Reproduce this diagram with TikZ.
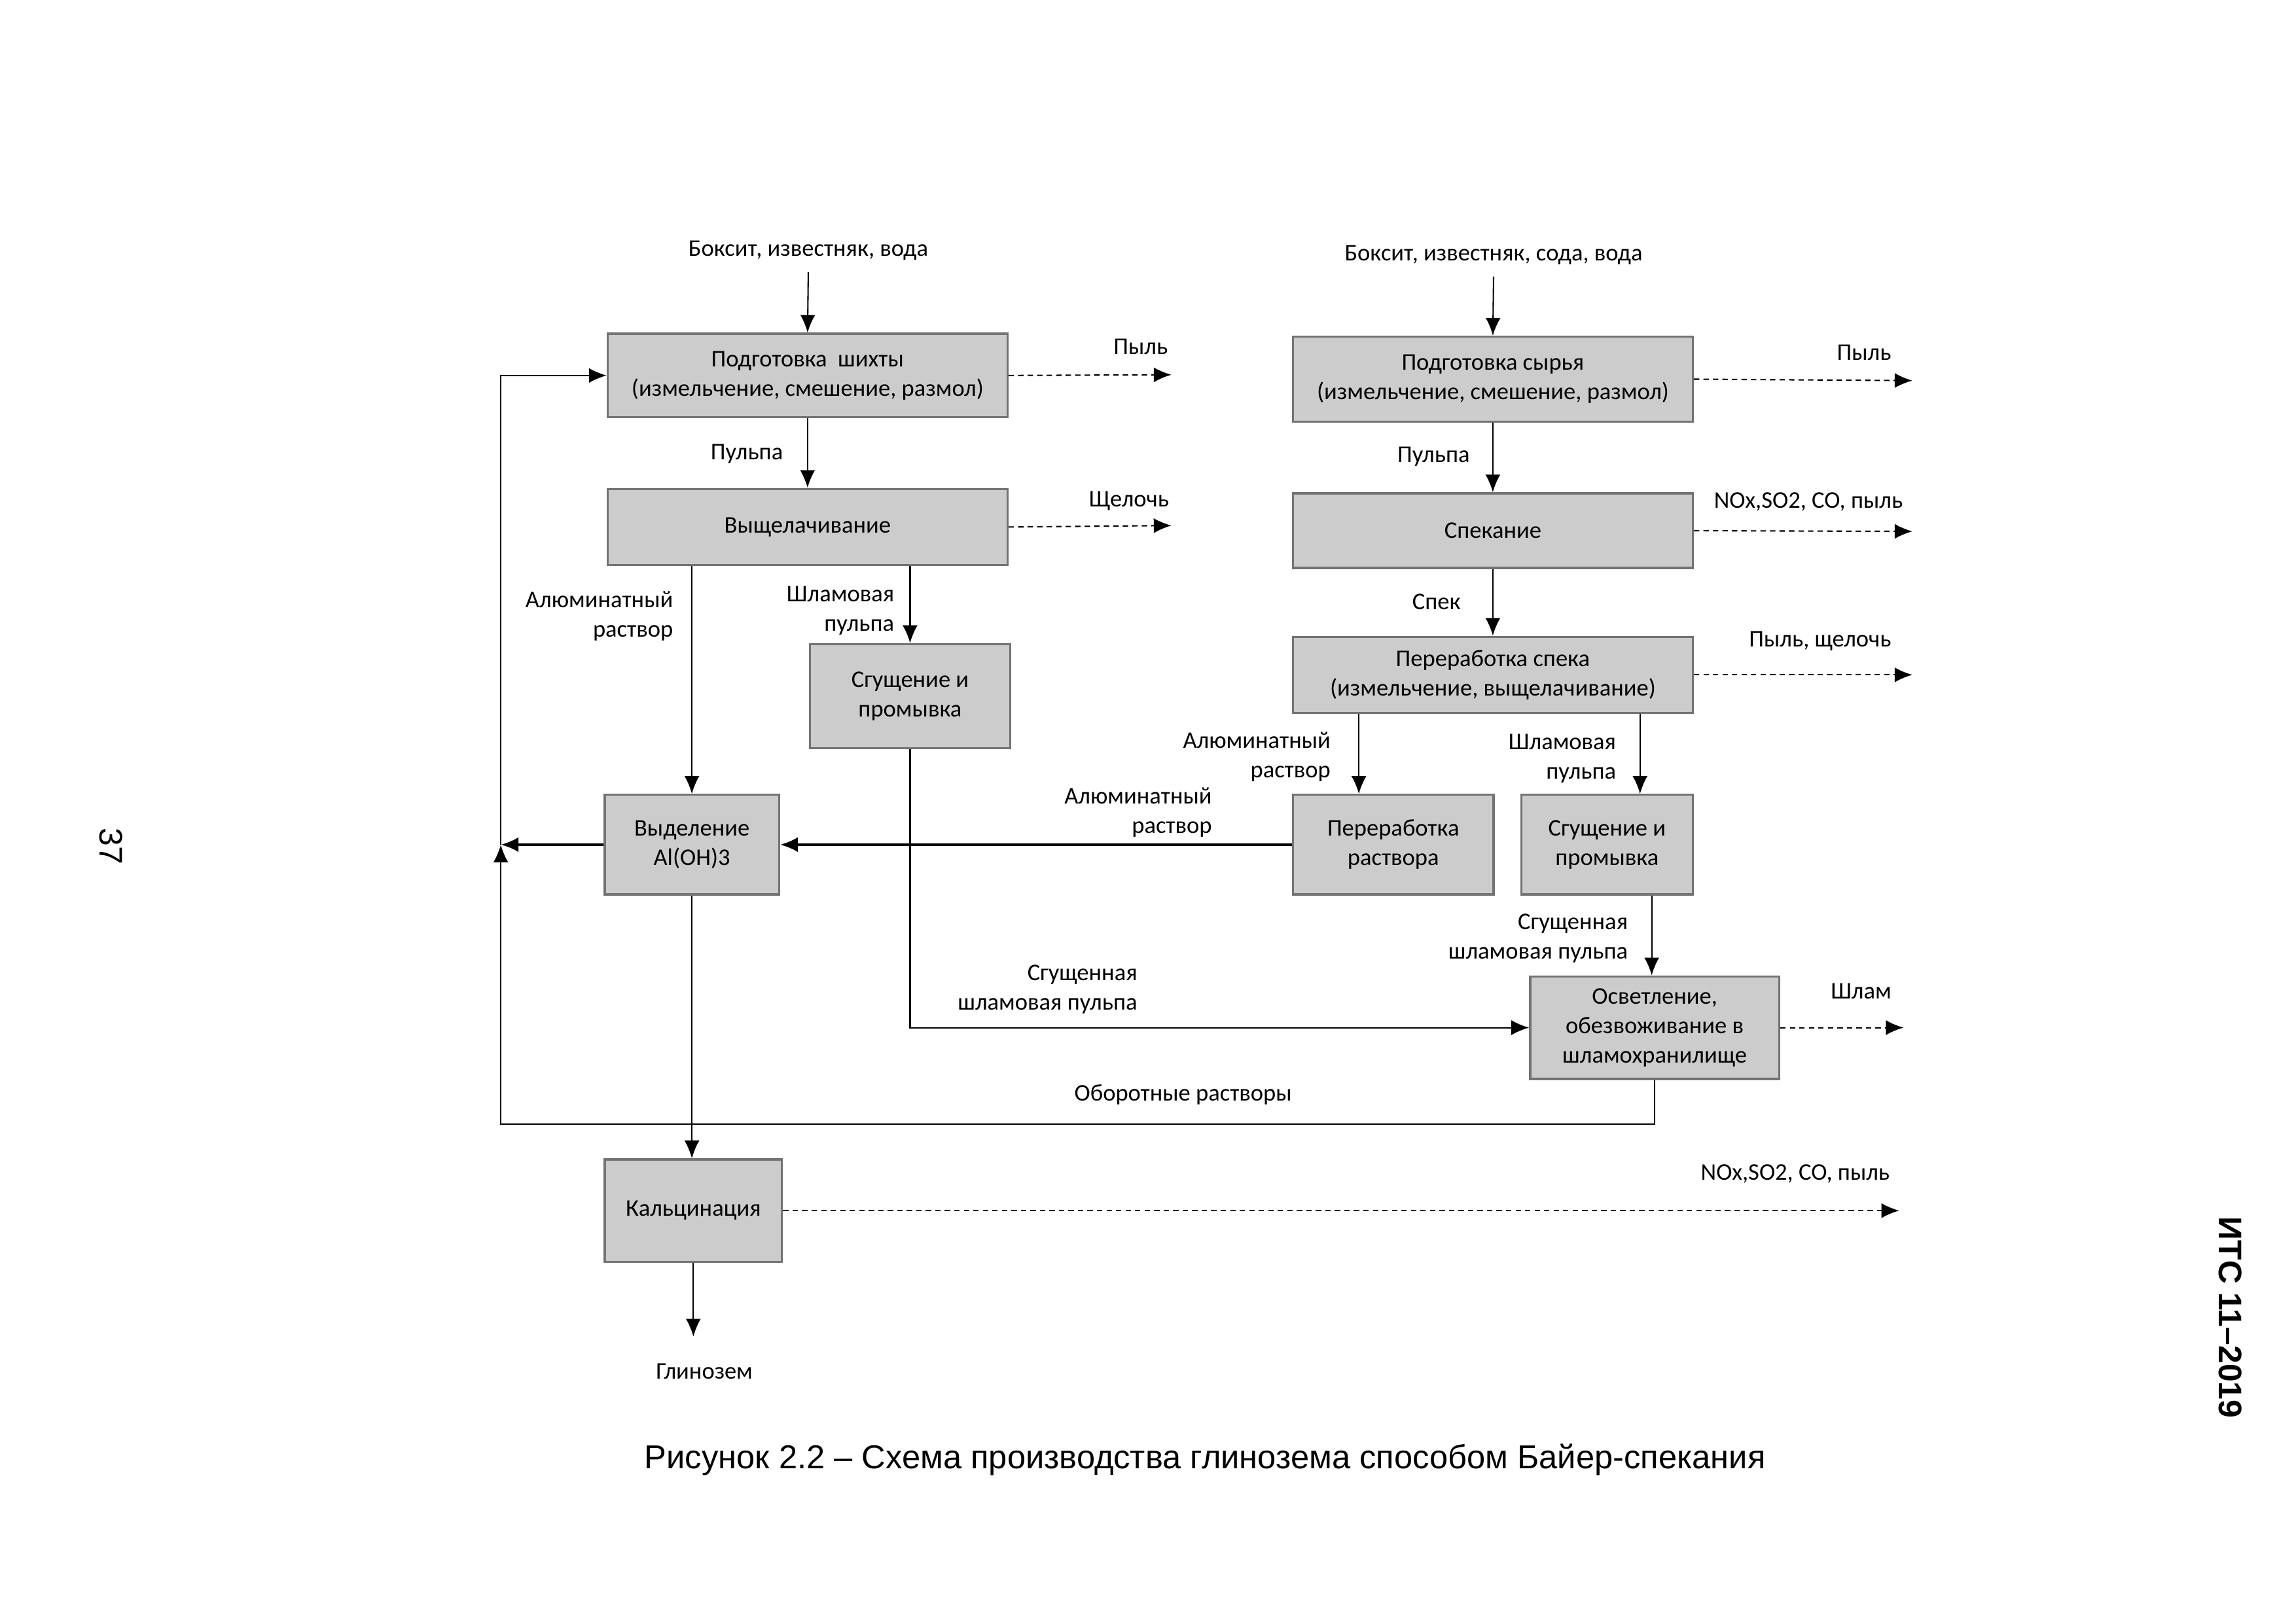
\documentclass[tikz,border=0pt]{standalone}
\usepackage{fontspec}
\setmainfont{Carlito}
\newfontfamily\capfont{Liberation Sans}
\usetikzlibrary{arrows.meta,positioning}

\newcommand{\boxfont}{\fontsize{8.8}{10.8}\selectfont}

\tikzset{
  procbox/.style={draw=black!55, line width=0.8pt, fill=black!20, align=center, inner sep=1pt, font=\boxfont},
  lbl/.style={font=\boxfont, inner sep=0pt, align=center},
  rlbl/.style={font=\boxfont, inner sep=0pt, align=right, anchor=east},
  flow/.style={-{Latex[length=6.5pt,width=5.5pt]}, line width=0.5pt},
  mainflow/.style={flow, line width=0.9pt},
  waste/.style={-{Latex[length=6.5pt,width=5.5pt]}, line width=0.5pt, dash pattern=on 2pt off 1.5pt},
}

\begin{document}
\begin{tikzpicture}[x=0.01894cm, y=-0.01894cm]
  \useasboundingbox (0,0) rectangle (1568,1109);

  % Left branch
  \node[lbl] (bauxA) at (552,171) {Боксит, известняк, вода};
  \node[procbox, minimum width=5.17cm, minimum height=1.08cm] (shikhta) at (551.5,256.5) {Подготовка\ \ шихты\\(измельчение, смешение, размол)};
  \node[procbox, minimum width=5.17cm, minimum height=0.985cm] (leach) at (551.5,360) {Выщелачивание};
  \node[procbox, minimum width=2.595cm, minimum height=1.345cm] (thickA) at (621.5,475.5) {Сгущение и\\промывка};
  \node[procbox, minimum width=2.254cm, minimum height=1.288cm] (precip) at (472.5,577) {Выделение\\Al(OH)3};
  \node[procbox, minimum width=2.292cm, minimum height=1.326cm] (calc) at (473.5,827) {Кальцинация};

  % Right branch
  \node[lbl] (bauxB) at (1020,174) {Боксит, известняк, сода, вода};
  \node[procbox, minimum width=5.17cm, minimum height=1.099cm] (raw) at (1019.5,259) {Подготовка сырья\\(измельчение, смешение, размол)};
  \node[procbox, minimum width=5.17cm, minimum height=0.966cm] (sinter) at (1019.5,362.5) {Спекание};
  \node[procbox, minimum width=5.17cm, minimum height=0.985cm] (cake) at (1019.5,461) {Переработка спека\\(измельчение, выщелачивание)};
  \node[procbox, minimum width=2.595cm, minimum height=1.288cm] (solut) at (951.5,577) {Переработка\\раствора};
  \node[procbox, minimum width=2.216cm, minimum height=1.288cm] (thickB) at (1097.5,577) {Сгущение и\\промывка};
  \node[procbox, minimum width=3.22cm, minimum height=1.326cm] (clarif) at (1130,702) {Осветление,\\обезвоживание в\\шламохранилище};

  % Free ends
  \coordinate (ret) at (342,577);
  \coordinate (retlow) at (342,768);
  \coordinate (prod) at (473.5,913);
  \coordinate (outA1) at (800,256);
  \coordinate (outA2) at (800,359);
  \coordinate (outB1) at (1306,260);
  \coordinate (outB2) at (1306,363);
  \coordinate (outB3) at (1306,461);
  \coordinate (outC) at (1300,702);
  \coordinate (outK) at (1297,827);

  % Main flows
  \draw[flow] (bauxA.south) ++(0,8) -- (shikhta.north);
  \draw[flow] (shikhta) -- (leach);
  \draw[flow] (leach.south -| precip.north) -- (precip.north);
  \draw[flow] (leach.south -| thickA.north) -- (thickA.north);
  \draw[flow] (thickA.south) |- (clarif.west);
  \draw[mainflow] (solut.west) -- (precip.east);
  \draw[mainflow] (precip.west) -- (ret);
  \draw[flow] (precip.south) -- (calc.north -| precip.south);
  \draw[flow] (calc.south) -- (prod);

  \draw[flow] (bauxB.south) ++(0,8) -- (raw.north);
  \draw[flow] (raw) -- (sinter);
  \draw[flow] (sinter) -- (cake);
  \draw[flow] (cake.south -| 928,0) -- (solut.north -| 928,0);
  \draw[flow] (cake.south -| 1120,0) -- (thickB.north -| 1120,0);
  \draw[flow] (thickB.south -| 1128,0) -- (clarif.north -| 1128,0);

  % Return solutions
  \draw[flow] (clarif.south) |- (retlow) -- (ret);
  \draw[flow] (ret) |- (shikhta.west);

  % Emissions
  \draw[waste] (shikhta.east) -- (outA1);
  \draw[waste] (leach.east) -- (outA2);
  \draw[waste] (raw.east) -- (outB1);
  \draw[waste] (sinter.east) -- (outB2);
  \draw[waste] (cake.east) -- (outB3);
  \draw[waste] (clarif.east) -- (outC);
  \draw[waste] (calc.east) -- (outK);

  % Labels
  \node[lbl] (dustA) at (779,237) {Пыль};
  \node[lbl] (alkA) at (771,342) {Щелочь};
  \node[lbl] (dustB) at (1273,241) {Пыль};
  \node[lbl] (gasB) at (1235,343) {NOx,SO2, CO, пыль};
  \node[lbl] (dustalk) at (1243,438) {Пыль, щелочь};
  \node[lbl] (sludge) at (1271,677) {Шлам};
  \node[lbl] (gasK) at (1226,802) {NOx,SO2, CO, пыль};
  \node[lbl] (pulpA) at (510,310) {Пульпа};
  \node[lbl] (pulpB) at (979,312) {Пульпа};
  \node[lbl] (spek) at (981,411) {Спек};
  \node[rlbl] (alumA) at (460,421) {Алюминатный\\раствор};
  \node[rlbl] (slurA) at (611,417) {Шламовая\\пульпа};
  \node[rlbl] (alumB) at (909,517) {Алюминатный\\раствор};
  \node[rlbl] (slurB) at (1104,518) {Шламовая\\пульпа};
  \node[rlbl] (alumC) at (828,555) {Алюминатный\\раствор};
  \node[rlbl] (thickslB) at (1112,641) {Сгущенная\\шламовая пульпа};
  \node[rlbl] (thickslA) at (777,676) {Сгущенная\\шламовая пульпа};
  \node[lbl] (recyc) at (808,748) {Оборотные растворы};
  \node[lbl] (alumina) at (481,937) {Глинозем};

  % Page texts
  \node[font=\capfont\fontsize{12.2}{14}\selectfont] (caption) at (823,997) {Рисунок 2.2 – Схема производства глинозема способом Байер-спекания};
  \node[font=\capfont\fontsize{12}{14}\selectfont, rotate=-90] (pagenum) at (76,578) {37};
  \node[font=\capfont\bfseries\fontsize{12}{14}\selectfont, rotate=-90] (header) at (1523,900) {ИТС 11–2019};
\end{tikzpicture}
\end{document}
